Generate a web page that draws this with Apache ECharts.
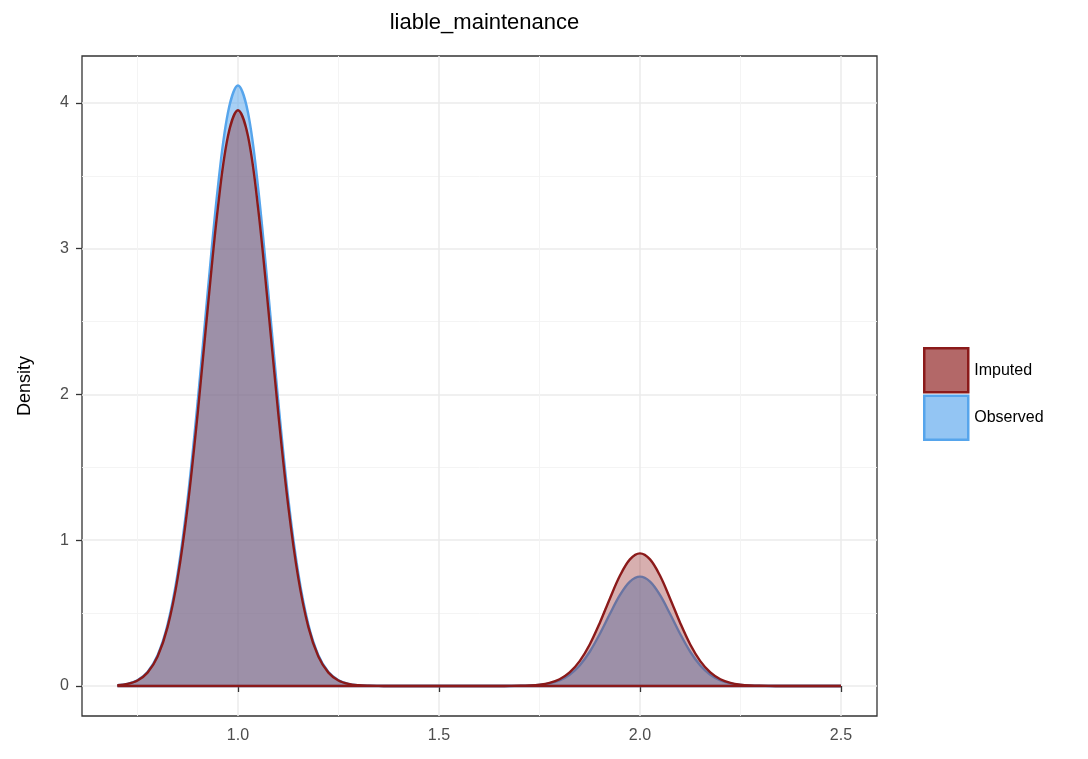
<!DOCTYPE html>
<html>
<head>
<meta charset="utf-8">
<title>liable_maintenance</title>
<script src="https://cdn.jsdelivr.net/npm/echarts@6/dist/echarts.min.js"></script>
<style>
  html, body { margin: 0; padding: 0; background: #ffffff; }
  #chart { width: 1088px; height: 759px; }
</style>
</head>
<body>
<div id="chart"></div>
<script>
// Density evaluation grid (x values)
const xs = [
  0.700, 0.725, 0.750, 0.775, 0.800, 0.825, 0.850, 0.875, 0.900, 0.925, 0.950, 0.975,
  1.000, 1.025, 1.050, 1.075, 1.100, 1.125, 1.150, 1.175, 1.200, 1.225, 1.250, 1.275,
  1.300, 1.325, 1.350, 1.375, 1.400, 1.425, 1.450, 1.475, 1.500, 1.525, 1.550, 1.575,
  1.600, 1.625, 1.650, 1.675, 1.700, 1.725, 1.750, 1.775, 1.800, 1.825, 1.850, 1.875,
  1.900, 1.925, 1.950, 1.975, 2.000, 2.025, 2.050, 2.075, 2.100, 2.125, 2.150, 2.175,
  2.200, 2.225, 2.250, 2.275, 2.300, 2.325, 2.350, 2.375, 2.400, 2.425, 2.450, 2.475,
  2.500
];

// Kernel density of the imputed values
const imputed = [
  0.0049, 0.0143, 0.0378, 0.0916, 0.2018, 0.4053, 0.7414, 1.2360, 1.8778, 2.5999, 3.2801, 3.7707,
  3.9500, 3.7707, 3.2801, 2.5999, 1.8778, 1.2360, 0.7414, 0.4053, 0.2018, 0.0916, 0.0378, 0.0143,
  0.0049, 0.0015, 0.0004, 0.0001, 0, 0, 0, 0, 0, 0, 0, 0,
  0, 0.0001, 0.0001, 0.0004, 0.0011, 0.0033, 0.0087, 0.0211, 0.0465, 0.0934, 0.1708, 0.2847,
  0.4326, 0.5990, 0.7557, 0.8687, 0.9100, 0.8687, 0.7557, 0.5990, 0.4326, 0.2847, 0.1708, 0.0934,
  0.0465, 0.0211, 0.0087, 0.0033, 0.0011, 0.0004, 0.0001, 0, 0, 0, 0, 0,
  0
];

// Kernel density of the observed values
const observed = [
  0.0051, 0.0149, 0.0395, 0.0955, 0.2105, 0.4227, 0.7733, 1.2891, 1.9586, 2.7118, 3.4212, 3.9330,
  4.1200, 3.9330, 3.4212, 2.7118, 1.9586, 1.2891, 0.7733, 0.4227, 0.2105, 0.0955, 0.0395, 0.0149,
  0.0051, 0.0016, 0.0004, 0.0001, 0, 0, 0, 0, 0, 0, 0, 0,
  0, 0.0001, 0.0001, 0.0003, 0.0009, 0.0027, 0.0072, 0.0174, 0.0383, 0.0770, 0.1408, 0.2347,
  0.3566, 0.4937, 0.6228, 0.7160, 0.7500, 0.7160, 0.6228, 0.4937, 0.3566, 0.2347, 0.1408, 0.0770,
  0.0383, 0.0174, 0.0072, 0.0027, 0.0009, 0.0003, 0.0001, 0, 0, 0, 0, 0,
  0
];

// Axis tick labels
const xTicks = [1.0, 1.5, 2.0, 2.5];
const xMinorTicks = [0.75, 1.25, 1.75, 2.25];
const yTicks = [0, 1, 2, 3, 4];
const yMinorTicks = [0.5, 1.5, 2.5, 3.5];

const IMP_LINE = '#8B1A1A';
const IMP_FILL = 'rgba(139,26,26,0.35)';
const OBS_LINE = '#56A5EC';
const OBS_FILL = 'rgba(86,165,236,0.52)';

const FONT = '"Liberation Sans", Arial, Helvetica, sans-serif';

const toPairs = (ys) => xs.map((x, i) => [x, ys[i]]);
const baseline = [[xs[0], 0], [xs[xs.length - 1], 0]];

const chart = echarts.init(document.getElementById('chart'), null, { renderer: 'canvas' });

const hiddenAxisParts = {
  axisLine: { show: false },
  axisTick: { show: false },
  axisLabel: { show: false }
};

chart.setOption({
  animation: false,
  backgroundColor: '#ffffff',
  title: {
    text: 'liable_maintenance',
    left: 479.5,
    top: 7,
    textAlign: 'center',
    textStyle: { fontFamily: FONT, fontSize: 22, fontWeight: 'normal', color: '#000000' }
  },
  legend: {
    orient: 'vertical',
    left: 918,
    top: 342,
    icon: 'rect',
    itemWidth: 44,
    itemHeight: 44,
    itemGap: 1,
    selectedMode: false,
    textStyle: { fontFamily: FONT, fontSize: 16, color: '#000000', padding: [0, 0, 0, 1] },
    data: [
      { name: 'Imputed', itemStyle: { color: 'rgba(139,26,26,0.66)', borderColor: IMP_LINE, borderWidth: 2.5 } },
      { name: 'Observed', itemStyle: { color: 'rgba(86,165,236,0.64)', borderColor: OBS_LINE, borderWidth: 2.5 } }
    ]
  },
  grid: {
    left: 82, right: 211, top: 56, bottom: 43,
    show: true,
    borderColor: '#333333',
    borderWidth: 1.3,
    backgroundColor: 'transparent'
  },
  xAxis: [
    {
      type: 'value',
      min: 0.612,
      max: 2.5896,
      axisLine: { show: false },
      axisTick: { show: true, customValues: xTicks, length: 6, lineStyle: { color: '#333333', width: 1.3 } },
      axisLabel: {
        customValues: xTicks,
        margin: 12,
        fontFamily: FONT, fontSize: 16, color: '#4D4D4D',
        formatter: (v) => v.toFixed(1)
      },
      splitLine: { show: true, lineStyle: { color: '#EBEBEB', width: 1.5 } }
    },
    Object.assign({
      type: 'value',
      min: 0.612,
      max: 2.5896,
      position: 'bottom',
      splitLine: { show: true, lineStyle: { color: '#F3F3F3', width: 0.9 } }
    }, hiddenAxisParts, { axisTick: { show: false, customValues: xMinorTicks } })
  ],
  yAxis: [
    {
      type: 'value',
      min: -0.206,
      max: 4.322,
      name: 'Density',
      nameLocation: 'middle',
      nameGap: 48,
      nameRotate: 90,
      nameTextStyle: { fontFamily: FONT, fontSize: 18, color: '#000000' },
      axisLine: { show: false },
      axisTick: { show: true, customValues: yTicks, length: 6, lineStyle: { color: '#333333', width: 1.3 } },
      axisLabel: {
        customValues: yTicks,
        margin: 13,
        fontFamily: FONT, fontSize: 16, color: '#4D4D4D'
      },
      splitLine: { show: true, lineStyle: { color: '#EBEBEB', width: 1.5 } }
    },
    Object.assign({
      type: 'value',
      min: -0.206,
      max: 4.322,
      position: 'left',
      splitLine: { show: true, lineStyle: { color: '#F3F3F3', width: 0.9 } }
    }, hiddenAxisParts, { axisTick: { show: false, customValues: yMinorTicks } })
  ],
  series: [
    {
      name: 'Observed',
      type: 'line',
      z: 2,
      data: toPairs(observed),
      smooth: 0.35,
      showSymbol: false,
      lineStyle: { color: OBS_LINE, width: 2.4 },
      itemStyle: { color: OBS_LINE },
      areaStyle: { color: OBS_FILL, opacity: 1, origin: 0 }
    },
    {
      name: 'Observed baseline',
      type: 'line',
      z: 2,
      data: baseline,
      showSymbol: false,
      lineStyle: { color: OBS_LINE, width: 2.4 }
    },
    {
      name: 'Imputed',
      type: 'line',
      z: 3,
      data: toPairs(imputed),
      smooth: 0.35,
      showSymbol: false,
      lineStyle: { color: IMP_LINE, width: 2.4 },
      itemStyle: { color: IMP_LINE },
      areaStyle: { color: IMP_FILL, opacity: 1, origin: 0 }
    },
    {
      name: 'Imputed baseline',
      type: 'line',
      z: 3,
      data: baseline,
      showSymbol: false,
      lineStyle: { color: IMP_LINE, width: 2.4 }
    }
  ]
});
</script>
</body>
</html>
